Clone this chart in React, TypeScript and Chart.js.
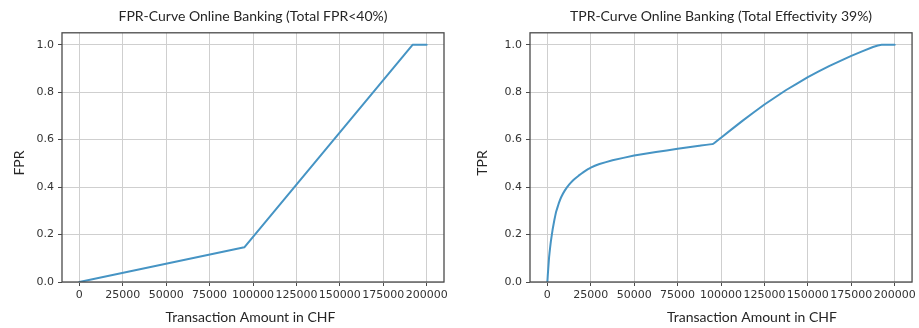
import React, { useEffect, useRef } from "react";
import { Chart, registerables } from "chart.js";

Chart.register(...registerables);

// ---- data ----
const xTickValues = [0, 25000, 50000, 75000, 100000, 125000, 150000, 175000, 200000];
const yTickValues = [0, 0.2, 0.4, 0.6, 0.8, 1.0];

const fprAmounts = [0, 95000, 192000, 200000];
const fprValues = [0, 0.146, 1.0, 1.0];

const tprAmounts = [
  0, 250, 500, 1000, 1500, 2000, 3000, 4000, 5000, 6500, 8000, 10000, 12500, 15000,
  18000, 21000, 25000, 30000, 37500, 50000, 62500, 75000, 87500, 95500, 100000,
  112500, 125000, 137500, 150000, 162500, 175000, 187500, 192500, 200000,
];
const tprValues = [
  0, 0.03, 0.055, 0.105, 0.14, 0.17, 0.22, 0.26, 0.295, 0.33, 0.358, 0.385, 0.41, 0.43,
  0.448, 0.464, 0.482, 0.497, 0.513, 0.533, 0.548, 0.561, 0.574, 0.582, 0.608,
  0.68, 0.748, 0.809, 0.863, 0.911, 0.953, 0.99, 1.0, 1.0,
];

const fprTitle = "FPR-Curve Online Banking (Total FPR<40%)";
const tprTitle = "TPR-Curve Online Banking (Total Effectivity 39%)";
const xAxisLabel = "Transaction Amount in CHF";

const LINE_COLOR = "#4694c4";
const GRID_COLOR = "#cfcfcf";
const FRAME_COLOR = "#4a4a4a";
const TEXT_COLOR = "#262626";
const TITLE_FONT = "Lato";

const framePlugin = {
  id: "frame",
  afterDatasetsDraw(chart: any) {
    const { ctx, chartArea } = chart;
    const { left, top, right, bottom } = chartArea;
    ctx.save();
    ctx.strokeStyle = FRAME_COLOR;
    ctx.lineWidth = 1.3;
    ctx.strokeRect(left, top, right - left, bottom - top);
    ctx.restore();
  },
};

const axisTitlesPlugin = {
  id: "axisTitles",
  afterDraw(chart: any, _args: any, opts: any) {
    const { ctx } = chart;
    ctx.save();
    ctx.fillStyle = TEXT_COLOR;
    ctx.font = `14px ${TITLE_FONT}`;
    ctx.textAlign = "center";
    ctx.textBaseline = "middle";
    ctx.fillText(opts.xText, opts.xCx, opts.xCy);
    ctx.translate(opts.yCx, opts.yCy);
    ctx.rotate(-Math.PI / 2);
    ctx.fillText(opts.yText, 0, 0);
    ctx.restore();
  },
};

type PanelProps = {
  amounts: number[];
  values: number[];
  title: string;
  yLabel: string;
  tension: number;
  yAxisWidth: number;
  rightPad: number;
  xTitlePos: [number, number];
  yTitlePos: [number, number];
  width: number;
};

function Panel(p: PanelProps) {
  const ref = useRef<HTMLCanvasElement | null>(null);
  useEffect(() => {
    if (!ref.current) return;
    const data = p.amounts.map((a, i) => ({ x: a, y: p.values[i] }));
    const chart = new Chart(ref.current, {
      type: "line",
      data: {
        datasets: [
          {
            data,
            borderColor: LINE_COLOR,
            borderWidth: 2,
            pointRadius: 0,
            fill: false,
            tension: p.tension,
            borderJoinStyle: "round",
            borderCapStyle: "round",
          },
        ],
      },
      options: {
        animation: false,
        responsive: false,
        maintainAspectRatio: false,
        layout: { padding: { left: 0, right: p.rightPad, top: 0, bottom: 0 } },
        plugins: {
          legend: { display: false },
          tooltip: { enabled: false },
          title: {
            display: true,
            text: p.title,
            fullSize: false,
            color: TEXT_COLOR,
            font: { family: TITLE_FONT, size: 14, weight: "normal", lineHeight: 1.2 },
            padding: { top: 8, bottom: 8 },
          },
          axisTitles: {
            xText: xAxisLabel,
            xCx: p.xTitlePos[0],
            xCy: p.xTitlePos[1],
            yText: p.yLabel,
            yCx: p.yTitlePos[0],
            yCy: p.yTitlePos[1],
          },
        } as any,
        scales: {
          x: {
            type: "linear",
            min: -10000,
            max: 210000,
            afterBuildTicks: (s: any) => {
              s.ticks = xTickValues.map((v) => ({ value: v }));
            },
            afterFit: (s: any) => {
              s.height = 46;
            },
            border: { display: false },
            grid: {
              color: GRID_COLOR,
              lineWidth: 1,
              drawTicks: true,
              tickLength: 4,
              tickColor: FRAME_COLOR,
              tickWidth: 1,
            },
            ticks: {
              autoSkip: false,
              maxRotation: 0,
              minRotation: 0,
              padding: 3,
              color: "#333333",
              font: { family: "DejaVu Sans", size: 11 },
              callback: (v: any) => String(v),
            },
          },
          y: {
            type: "linear",
            min: 0,
            max: 1.05,
            afterBuildTicks: (s: any) => {
              s.ticks = yTickValues.map((v) => ({ value: v }));
            },
            afterFit: (s: any) => {
              s.width = p.yAxisWidth;
            },
            border: { display: false },
            grid: {
              color: GRID_COLOR,
              lineWidth: 1,
              drawTicks: true,
              tickLength: 4,
              tickColor: FRAME_COLOR,
              tickWidth: 1,
            },
            ticks: {
              autoSkip: false,
              padding: 4,
              color: "#333333",
              font: { family: "DejaVu Sans", size: 11 },
              callback: (v: any) => Number(v).toFixed(1),
            },
          },
        },
      },
      plugins: [framePlugin, axisTitlesPlugin],
    } as any);
    return () => chart.destroy();
  }, []);
  return (
    <canvas
      ref={ref}
      width={p.width}
      height={328}
      style={{ width: p.width, height: 328, display: "block" }}
    />
  );
}

export default function App() {
  return (
    <div
      style={{
        position: "absolute",
        left: 0,
        top: 0,
        width: 919,
        height: 328,
        background: "#ffffff",
        display: "flex",
      }}
    >
      <Panel
        amounts={fprAmounts}
        values={fprValues}
        title={fprTitle}
        yLabel="FPR"
        tension={0}
        yAxisWidth={62}
        rightPad={16}
        xTitlePos={[250.5, 317]}
        yTitlePos={[19, 163]}
        width={460}
      />
      <Panel
        amounts={tprAmounts}
        values={tprValues}
        title={tprTitle}
        yLabel="TPR"
        tension={0.05}
        yAxisWidth={70}
        rightPad={6}
        xTitlePos={[292, 317]}
        yTitlePos={[22.5, 163]}
        width={459}
      />
    </div>
  );
}
